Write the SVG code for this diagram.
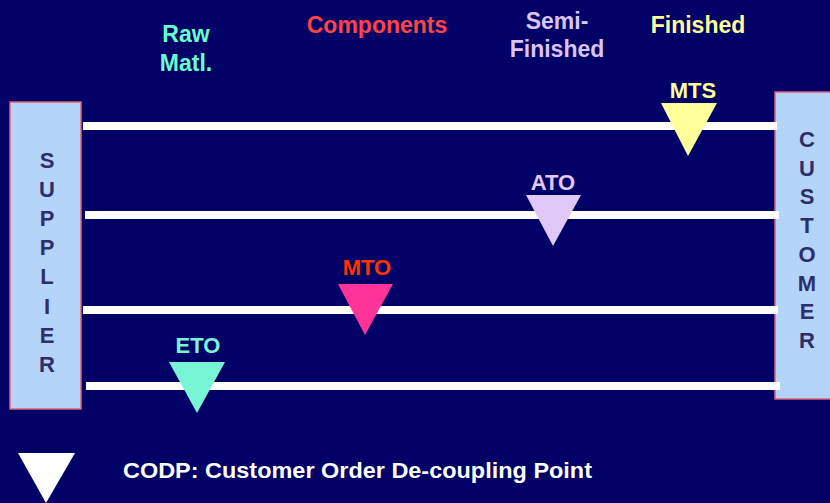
<svg xmlns="http://www.w3.org/2000/svg" width="830" height="503" viewBox="0 0 830 503">
  <style>
    text { font-family: "Liberation Sans", Arial, sans-serif; font-weight: bold; text-anchor: middle; }
    .hdr { font-size: 23px; }
    .lbl { font-size: 22px; }
    .side { font-size: 22px; fill: #2E2E6A; }
    .box { fill: #B4D4FA; stroke: #E06070; stroke-width: 1.5; }
    .flow { stroke: #FFFFFF; stroke-width: 8; }
  </style>
  <rect width="830" height="503" fill="#000066"/>

  <!-- stage headers -->
  <g id="headers">
    <text class="hdr" x="186" y="42" fill="#66FFCC">Raw</text>
    <text class="hdr" x="186" y="71" fill="#66FFCC">Matl.</text>
    <text class="hdr" x="377" y="33" fill="#FF4444">Components</text>
    <text class="hdr" x="557" y="29" fill="#D9C4F5">Semi-</text>
    <text class="hdr" x="557" y="57" fill="#D9C4F5">Finished</text>
    <text class="hdr" x="698" y="33" fill="#FFFF99">Finished</text>
  </g>

  <!-- supplier -->
  <g id="supplier">
    <rect class="box" x="10" y="102" width="71" height="307"/>
    <text class="side" x="47" y="168">S</text>
    <text class="side" x="47" y="197">U</text>
    <text class="side" x="47" y="226">P</text>
    <text class="side" x="47" y="255">P</text>
    <text class="side" x="47" y="284">L</text>
    <text class="side" x="47" y="314">I</text>
    <text class="side" x="47" y="343">E</text>
    <text class="side" x="47" y="372">R</text>
  </g>

  <!-- customer -->
  <g id="customer">
    <rect class="box" x="775" y="92" width="60" height="307"/>
    <text class="side" x="807" y="147">C</text>
    <text class="side" x="807" y="176">U</text>
    <text class="side" x="807" y="204">S</text>
    <text class="side" x="807" y="233">T</text>
    <text class="side" x="807" y="262">O</text>
    <text class="side" x="807" y="291">M</text>
    <text class="side" x="807" y="319">E</text>
    <text class="side" x="807" y="348">R</text>
  </g>

  <!-- material flow lines -->
  <g id="connectors">
    <line class="flow" x1="83" y1="126" x2="777" y2="126"/>
    <line class="flow" x1="85" y1="215" x2="779" y2="215"/>
    <line class="flow" x1="83" y1="310" x2="778" y2="310"/>
    <line class="flow" x1="86" y1="386" x2="780" y2="386"/>
  </g>

  <!-- decoupling points -->
  <g id="mts">
    <polygon points="661,103 717,103 688,156" fill="#FFFF99"/>
    <text class="lbl" x="693" y="98" fill="#FFFF99">MTS</text>
  </g>
  <g id="ato">
    <polygon points="526,195 581,195 553,246" fill="#E0C8F8"/>
    <text class="lbl" x="553" y="190" fill="#E0C8F8">ATO</text>
  </g>
  <g id="mto">
    <polygon points="338,284 393,284 365,335" fill="#FF3399"/>
    <text class="lbl" x="367" y="275" fill="#FF3300">MTO</text>
  </g>
  <g id="eto">
    <polygon points="169,362 225,362 197,413" fill="#77F5D5"/>
    <text class="lbl" x="198" y="353" fill="#77F5D5">ETO</text>
  </g>

  <!-- legend -->
  <g id="legend">
    <polygon points="18,453 75,453 46,503" fill="#FFFFFF"/>
    <text x="123" y="478" fill="#FFFFFF" font-size="21.5" textLength="469" lengthAdjust="spacingAndGlyphs" style="text-anchor:start">CODP: Customer Order De-coupling Point</text>
  </g>
</svg>
